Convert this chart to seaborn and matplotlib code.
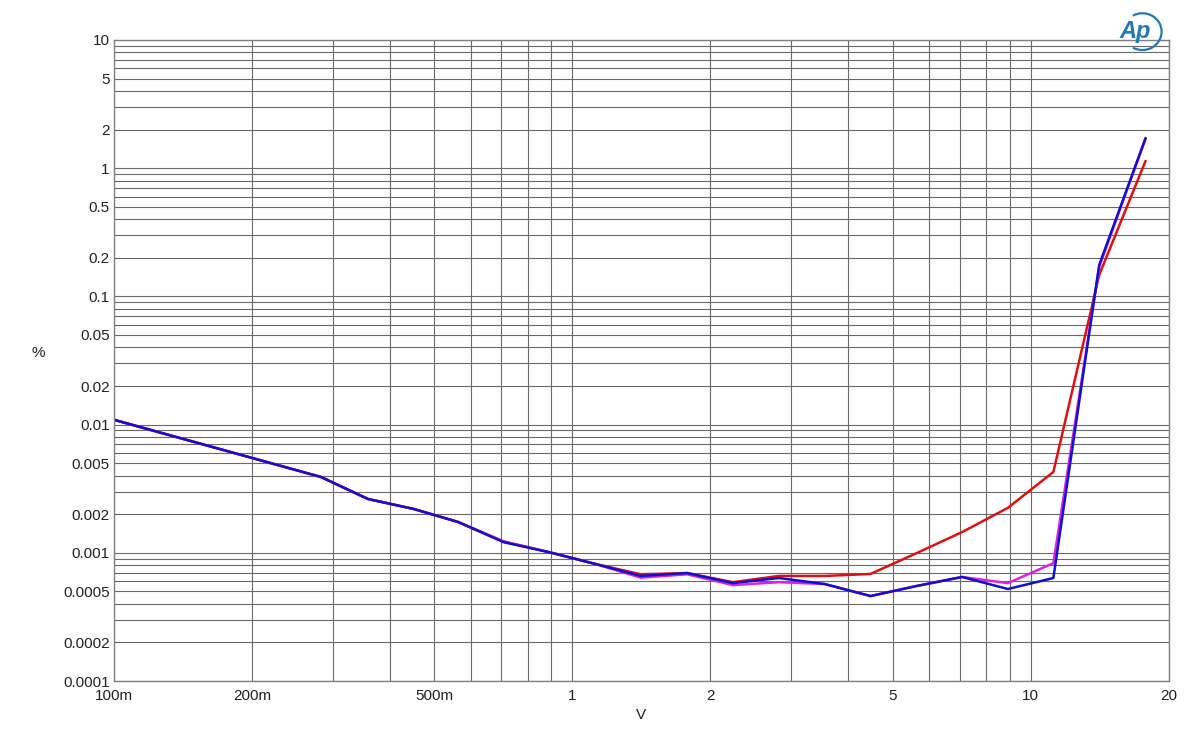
import numpy as np
import pandas as pd
import matplotlib
matplotlib.use("Agg")
import matplotlib.pyplot as plt
from matplotlib.patches import Arc
import seaborn as sns

# sweep points (V)
volts = [0.1, 0.283, 0.358, 0.45, 0.563, 0.708, 0.891, 1.12, 1.41, 1.78,
         2.24, 2.82, 3.55, 4.47, 5.62, 7.08, 8.91, 11.2, 14.1, 17.8]

# THD+N (%)
red = [0.0109, 0.0039, 0.00263, 0.0022, 0.00174, 0.00122, 0.00101, 0.00082, 0.00068, 0.000695,
       0.00059, 0.00066, 0.00066, 0.000684, 0.00099, 0.00145, 0.00224, 0.00427, 0.147, 1.14]
magenta = [0.0109, 0.0039, 0.00263, 0.0022, 0.00174, 0.00123, 0.00101, 0.00082, 0.00064, 0.00068,
           0.00056, 0.00059, 0.000571, 0.00046, 0.00055, 0.000648, 0.00058, 0.00083, 0.17, 1.7]
blue = [0.0109, 0.0039, 0.00263, 0.0022, 0.00174, 0.00121, 0.00101, 0.00082, 0.00066, 0.000695,
        0.00058, 0.000636, 0.000571, 0.00046, 0.00055, 0.000648, 0.000522, 0.000636, 0.176, 1.72]

y_ticks = [0.0001, 0.0002, 0.0005, 0.001, 0.002, 0.005, 0.01, 0.02, 0.05,
           0.1, 0.2, 0.5, 1, 2, 5, 10]
y_labels = ["0.0001", "0.0002", "0.0005", "0.001", "0.002", "0.005", "0.01", "0.02", "0.05",
            "0.1", "0.2", "0.5", "1", "2", "5", "10"]
x_ticks = [0.1, 0.2, 0.5, 1, 2, 5, 10, 20]
x_labels = ["100m", "200m", "500m", "1", "2", "5", "10", "20"]

df = pd.concat([
    pd.DataFrame({"V": volts, "pct": red, "ch": "red"}),
    pd.DataFrame({"V": volts, "pct": magenta, "ch": "magenta"}),
    pd.DataFrame({"V": volts, "pct": blue, "ch": "blue"}),
])

sns.set_style("white")
plt.rcParams["font.family"] = ["Liberation Sans", "DejaVu Sans"]

fig = plt.figure(figsize=(12, 7.36), dpi=100)
ax = fig.add_axes([0.095, 0.0747, 0.879, 0.871])

sns.lineplot(data=df, x="V", y="pct", hue="ch", sort=False, estimator=None,
             palette={"red": "#e01010", "magenta": "#e020e0", "blue": "#1010d0"},
             linewidth=1.8, legend=False, ax=ax)

ax.set_xscale("log")
ax.set_yscale("log")
ax.set_xlim(0.1, 20)
ax.set_ylim(0.0001, 10)

ax.set_yticks(y_ticks)
ax.set_yticklabels(y_labels)
ax.set_xticks(x_ticks)
ax.set_xticklabels(x_labels)
ax.yaxis.set_minor_locator(matplotlib.ticker.LogLocator(base=10, subs=np.arange(1, 10)))
ax.xaxis.set_minor_locator(matplotlib.ticker.LogLocator(base=10, subs=np.arange(1, 10)))
ax.yaxis.set_minor_formatter(matplotlib.ticker.NullFormatter())
ax.xaxis.set_minor_formatter(matplotlib.ticker.NullFormatter())
ax.grid(True, which="both", color="#6a6a6a", linewidth=0.8)
ax.set_axisbelow(True)
ax.tick_params(which="both", length=0, labelsize=11, colors="#222222", pad=3)
ax.tick_params(axis="x", pad=6)

for s in ax.spines.values():
    s.set_color("#808080")
    s.set_linewidth(1)

ax.set_xlabel("V", fontsize=11, color="#222222", labelpad=3)
ax.set_ylabel("%", fontsize=11, color="#222222", rotation=0)
ax.yaxis.set_label_coords(-0.072, 0.5)

# AP logo
fig.text(0.946, 0.957, "Ap", fontsize=17, fontstyle="italic", fontweight="bold",
         color="#1f7ab5", ha="center", va="center")
logo = Arc((0.952, 0.957), 0.032, 0.05, theta1=-110, theta2=110,
           transform=fig.transFigure, color="#1f7ab5", linewidth=1.6)
fig.add_artist(logo)

fig.savefig("out.png", dpi=100)
